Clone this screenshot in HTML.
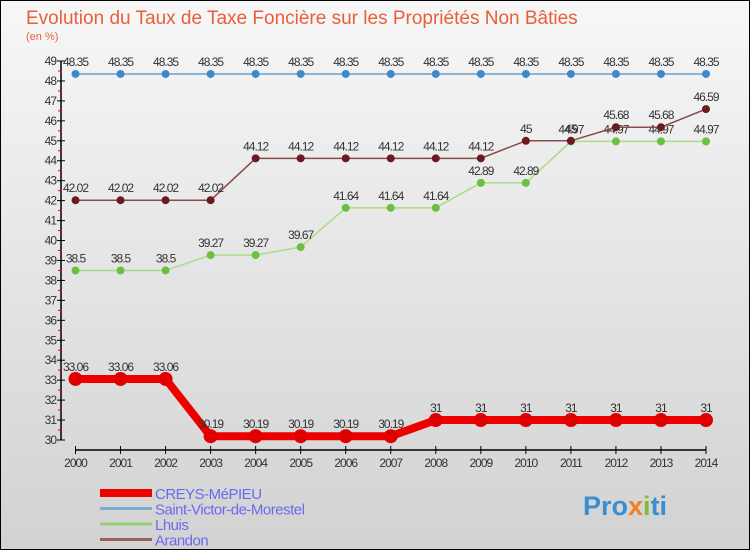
<!DOCTYPE html>
<html><head><meta charset="utf-8"><style>
body{margin:0}
svg{display:block;font-family:"Liberation Sans",sans-serif}
</style></head><body>
<svg width="750" height="550" xmlns="http://www.w3.org/2000/svg">
<defs><linearGradient id="bg" x1="0" y1="0" x2="0" y2="1"><stop offset="0" stop-color="#f7f7f7"/><stop offset="1" stop-color="#d2d2d2"/></linearGradient></defs>
<rect x="0.5" y="0.5" width="749" height="549" fill="url(#bg)" stroke="#000"/>
<text x="26" y="24" font-size="19" fill="#e8603a">Evolution du Taux de Taxe Foncière sur les Propriétés Non Bâties</text>
<text x="26" y="40" font-size="11" fill="#e8603a">(en %)</text>
<g id="axes"></g><g id="series"></g><g id="legend"></g>
<text x="583" y="515" font-size="27" font-weight="bold" fill="#3a8fd0">Pro<tspan fill="#f08020">x</tspan><tspan fill="#80c030">i</tspan>ti</text>
</svg>
<script>
const years=[2000,2001,2002,2003,2004,2005,2006,2007,2008,2009,2010,2011,2012,2013,2014];
const yTicks=[30,31,32,33,34,35,36,37,38,39,40,41,42,43,44,45,46,47,48,49];
const creys=[33.06,33.06,33.06,30.19,30.19,30.19,30.19,30.19,31,31,31,31,31,31,31];
const creysLbl=["33.06","33.06","33.06","30.19","30.19","30.19","30.19","30.19","31","31","31","31","31","31","31"];
const stvictor=[48.35,48.35,48.35,48.35,48.35,48.35,48.35,48.35,48.35,48.35,48.35,48.35,48.35,48.35,48.35];
const stvictorLbl=["48.35","48.35","48.35","48.35","48.35","48.35","48.35","48.35","48.35","48.35","48.35","48.35","48.35","48.35","48.35"];
const lhuis=[38.5,38.5,38.5,39.27,39.27,39.67,41.64,41.64,41.64,42.89,42.89,44.97,44.97,44.97,44.97];
const lhuisLbl=["38.5","38.5","38.5","39.27","39.27","39.67","41.64","41.64","41.64","42.89","42.89","44.97","44.97","44.97","44.97"];
const arandon=[42.02,42.02,42.02,42.02,44.12,44.12,44.12,44.12,44.12,44.12,45,45,45.68,45.68,46.59];
const arandonLbl=["42.02","42.02","42.02","42.02","44.12","44.12","44.12","44.12","44.12","44.12","45","45","45.68","45.68","46.59"];
const names=["CREYS-MéPIEU","Saint-Victor-de-Morestel","Lhuis","Arandon"];

const NS="http://www.w3.org/2000/svg";
const X=i=>75.5+i*(706-75.5)/(years.length-1);
const Y=v=>440-(v-30)*(440-61)/19;
function mk(t,a,p){const e=document.createElementNS(NS,t);for(const k in a)e.setAttribute(k,a[k]);p.appendChild(e);return e;}
const ax=document.getElementById('axes');
const yl=mk('line',{x1:61,y1:Y(49),x2:61,y2:Y(30),stroke:'#000','stroke-width':1.5},ax);


yTicks.forEach(v=>{
 mk('line',{x1:57,y1:Y(v),x2:65,y2:Y(v),stroke:'#000'},ax);
 if(v<49)mk('line',{x1:58,y1:Y(v+0.5),x2:62,y2:Y(v+0.5),stroke:'#e00'},ax);
 const t=mk('text',{x:56,y:Y(v)+4,'font-size':12,'text-anchor':'end',fill:'#333','letter-spacing':'-1'},ax);t.textContent=v;
 
 
});
const xl=mk('line',{x1:X(0),y1:450,x2:X(years.length-1),y2:450,stroke:'#000','stroke-width':1.5},ax);


years.forEach((yr,i)=>{
 mk('line',{x1:X(i),y1:446,x2:X(i),y2:454,stroke:'#000'},ax);
 const t=mk('text',{x:X(i),y:467,'font-size':12,'text-anchor':'middle',fill:'#333','letter-spacing':'-1'},ax);t.textContent=yr;
 
 
});
const sg=document.getElementById('series');
function series(vals,lbls,color,dot,lw,r,name){
 const g=mk('g',{},sg);
 
 
 mk('polyline',{points:vals.map((v,i)=>X(i)+','+Y(v)).join(' '),fill:'none',stroke:color,'stroke-width':lw},g);
 vals.forEach((v,i)=>{
  const c=mk('circle',{cx:X(i),cy:Y(v),r:r,fill:dot},g);
  
  
  const t=mk('text',{x:X(i),y:Y(v)-8,'font-size':12,'text-anchor':'middle',fill:'#333','letter-spacing':'-1'},g);t.textContent=lbls[i];
  
  
 });
}
series(stvictor,stvictorLbl,'#6aa0c8','#3a8acc',1.5,4,'series-saint-victor');
series(lhuis,lhuisLbl,'#a8dc88','#6cc040',1.5,4,'series-lhuis');
series(arandon,arandonLbl,'#8a4a4a','#6a1a20',1.5,4,'series-arandon');
series(creys,creysLbl,'#ee0000','#e00000',8,7,'series-creys');
const lg=document.getElementById('legend');
const lc=['#ee0000','#7aaacc','#99d077','#9a6060'],lw=[8,3,3,3];
names.forEach((n,i)=>{
 const y=493+i*15.5;
 const l=mk('line',{x1:100,y1:y,x2:152,y2:y,stroke:lc[i],'stroke-width':lw[i]},lg);
 
 
 const t=mk('text',{x:155,y:y+6,'font-size':15,fill:'#6a6af0','letter-spacing':'-0.5'},lg);t.textContent=n;
 
 
});
</script>
</body></html>
